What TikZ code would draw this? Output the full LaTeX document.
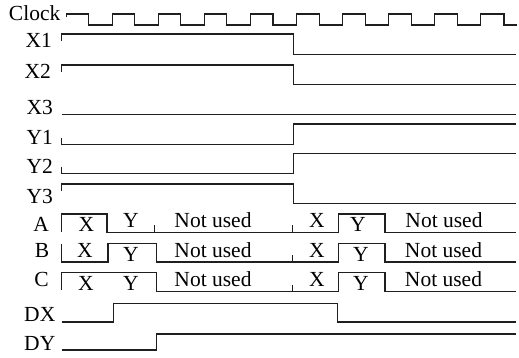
\documentclass[tikz,border=0pt]{standalone}
\usepackage{fontspec}
\setmainfont{Liberation Serif}
\tikzset{
  sig/.style={line width=1.2pt, line join=miter, draw=black!88},
  lab/.style={inner sep=0pt, font=\fontsize{21.5}{25}\selectfont},
  rowlab/.style={lab, anchor=base east},
  cell/.style={lab, anchor=base}
}
\begin{document}
\begin{tikzpicture}[x=1pt,y=-1pt]
\useasboundingbox (0,0) rectangle (519,357);
% labels
\node[rowlab] (lclk) at (60.5,20) {Clock};
\node[rowlab] (lx1) at (52,47) {X1};
\node[rowlab] (lx2) at (51,78) {X2};
\node[rowlab] (lx3) at (53,114) {X3};
\node[rowlab] (ly1) at (53,144) {Y1};
\node[rowlab] (ly2) at (53,173) {Y2};
\node[rowlab] (ly3) at (53,203) {Y3};
\node[rowlab] (la) at (49,231.5) {A};
\node[rowlab] (lb) at (49.5,257.5) {B};
\node[rowlab] (lc) at (49,286) {C};
\node[rowlab] (ldx) at (55.5,321.5) {DX};
\node[rowlab] (ldy) at (55.5,350) {DY};
% clock
\draw[sig] (66.5,17) -- (66.5,14)
  foreach \k in {0,...,8} { -- ({88.3+46.19*\k},14) -- ({88.3+46.19*\k},25)
     -- ({112.6+46.02*\k},25) -- ({112.6+46.02*\k},14) }
  -- (504,14) -- (504,25) -- (517,25);
% X, Y
\draw[sig] (61.7,40.5) -- (61.7,34) -- (293.3,34) -- (293.3,54.6) -- (515.7,54.6);
\draw[sig] (61.7,71.5) -- (61.7,65) -- (293.3,65) -- (293.3,84.7) -- (515.7,84.7);
\draw[sig] (61.7,114.8) -- (515.7,114.8);
\draw[sig] (61.7,137.5) -- (61.7,144.2) -- (293.3,144.2) -- (293.3,124) -- (515.7,124);
\draw[sig] (61.7,166.5) -- (61.7,173.3) -- (293.3,173.3) -- (293.3,153.3) -- (515.7,153.3);
\draw[sig] (61.7,190.5) -- (61.7,184) -- (293.3,184) -- (293.3,203.3) -- (515.7,203.3);
% A
\draw[sig] (61.7,231.5) -- (61.7,214) -- (107,214) -- (107,232.3) -- (338.3,232.3)
  -- (338.3,214) -- (385,214) -- (385,232.3) -- (515.7,232.3);
\draw[sig] (154.5,232.3) -- (154.5,225.3);
\draw[sig] (292.7,232.3) -- (292.7,225.3);
% B
\draw[sig] (61.7,243.5) -- (61.7,262) -- (108,262) -- (108,243.5) -- (156.5,243.5)
  -- (156.5,262) -- (338.3,262) -- (338.3,243.5) -- (385,243.5) -- (385,262) -- (515.7,262);
\draw[sig] (292.7,262) -- (292.7,255);
% C
\draw[sig] (61.7,290) -- (61.7,272.3) -- (156.5,272.3) -- (156.5,291.7) -- (338.3,291.7)
  -- (338.3,272.3) -- (385,272.3) -- (385,291.7) -- (515.7,291.7);
\draw[sig] (292.7,291.7) -- (292.7,284.7);
% DX, DY
\draw[sig] (61.7,322) -- (113.3,322) -- (113.3,303.3) -- (337.3,303.3) -- (337.3,322) -- (515.7,322);
\draw[sig] (61.7,350) -- (156.7,350) -- (156.7,334) -- (515.7,334);
% cell texts A
\node[cell] (ax1) at (86.5,231.3) {X};
\node[cell] (ay1) at (131,227.8) {Y};
\node[cell] (an1) at (213,227.8) {Not used};
\node[cell] (ax2) at (317,227.8) {X};
\node[cell] (ay2) at (358,231.3) {Y};
\node[cell] (an2) at (444,227.8) {Not used};
% B
\node[cell] (bx1) at (85,257.5) {X};
\node[cell] (by1) at (131,261) {Y};
\node[cell] (bn1) at (213,257.5) {Not used};
\node[cell] (bx2) at (317,257.5) {X};
\node[cell] (by2) at (361,261) {Y};
\node[cell] (bn2) at (443.5,257.5) {Not used};
% C
\node[cell] (cx1) at (86,290.7) {X};
\node[cell] (cy1) at (131,290.7) {Y};
\node[cell] (cn1) at (213,286.7) {Not used};
\node[cell] (cx2) at (317,286.7) {X};
\node[cell] (cy2) at (361,290.7) {Y};
\node[cell] (cn2) at (443.5,286.7) {Not used};
\end{tikzpicture}
\end{document}
